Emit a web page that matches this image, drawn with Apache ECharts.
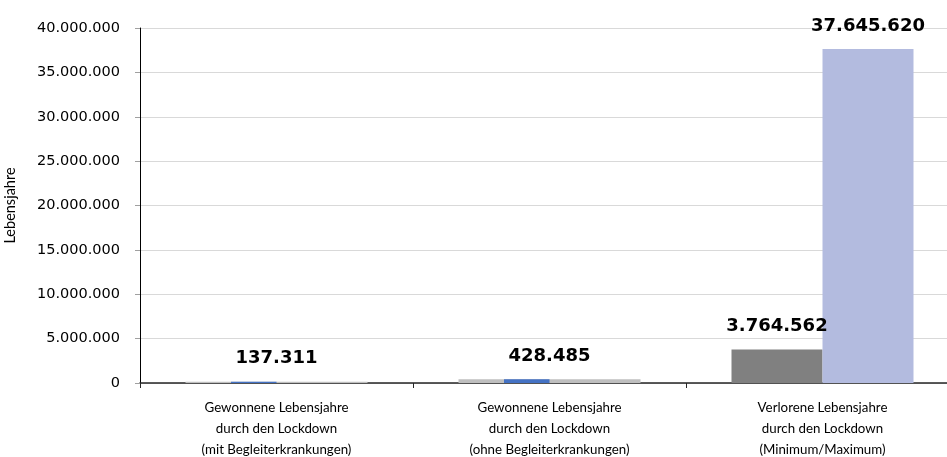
<!DOCTYPE html>
<html>
<head>
<meta charset="utf-8">
<script src="https://cdn.jsdelivr.net/npm/echarts@6/dist/echarts.min.js"></script>
<style>
  html, body { margin: 0; padding: 0; background: #ffffff; }
  #chart { width: 947px; height: 457px; }
</style>
</head>
<body>
<div id="chart"></div>
<script>
// Categories along the x axis
const categories = [
  'Gewonnene Lebensjahre\ndurch den Lockdown\n(mit Begleiterkrankungen)',
  'Gewonnene Lebensjahre\ndurch den Lockdown\n(ohne Begleiterkrankungen)',
  'Verlorene Lebensjahre\ndurch den Lockdown\n(Minimum/Maximum)'
];

// Life years gained (wide grey bar, labelled)
const gainedYears = [137311, 428485, null];
// Life years gained (narrow blue inner bar)
const gainedInner = [137311, 428485, null];
// Life years lost: minimum and maximum estimate
const lostMin = [null, null, 3764562];
const lostMax = [null, null, 37645620];

// Value axis range
const yMin = 0;
const yMax = 40000000;
const yStep = 5000000;

const FONT_NUM = '"DejaVu Sans", sans-serif';
const FONT_TXT = 'Lato, "Open Sans", sans-serif';

function fmtDE(v) {
  return String(Math.round(v)).replace(/\B(?=(\d{3})+(?!\d))/g, '.');
}

const valueLabel = {
  show: true,
  position: 'top',
  distance: 14,
  fontFamily: FONT_NUM,
  fontWeight: 'bold',
  fontSize: 18,
  color: '#000000',
  formatter: p => fmtDE(p.value)
};

const chart = echarts.init(document.getElementById('chart'), null, { renderer: 'canvas' });

chart.setOption({
  animation: false,
  backgroundColor: '#ffffff',
  grid: {
    left: 140, top: 28, width: 819, height: 355,
    containLabel: false,
    outerBoundsMode: 'none'
  },
  xAxis: [
    {
      type: 'category',
      data: categories,
      axisLine: { lineStyle: { color: '#262626', width: 1.5 } },
      axisTick: { show: true, length: 5, inside: false, lineStyle: { color: '#262626' } },
      axisLabel: {
        interval: 0,
        margin: 14,
        fontFamily: FONT_TXT,
        fontSize: 13.3,
        lineHeight: 21,
        color: '#000000'
      },
      splitLine: { show: false }
    },
    { type: 'category', data: categories, show: false },
    { type: 'category', data: categories, show: false }
  ],
  yAxis: {
    type: 'value',
    min: yMin,
    max: yMax,
    interval: yStep,
    name: 'Lebensjahre',
    nameLocation: 'middle',
    nameRotate: 90,
    nameGap: 122,
    nameTextStyle: { fontFamily: FONT_TXT, fontSize: 14.5, color: '#000000' },
    axisLine: { show: true, lineStyle: { color: '#000000', width: 1 } },
    axisTick: { show: true, length: 5, inside: false, lineStyle: { color: '#a0a0a0' } },
    axisLabel: {
      margin: 20,
      fontFamily: FONT_NUM,
      fontSize: 14.5,
      color: '#000000',
      formatter: v => fmtDE(v)
    },
    splitLine: { show: true, lineStyle: { color: '#d9d9d9', width: 1 } }
  },
  series: [
    {
      name: 'Gewonnen',
      type: 'bar',
      xAxisIndex: 1,
      data: gainedYears,
      barWidth: 182,
      itemStyle: { color: '#bfbfbf' },
      label: valueLabel,
      z: 2
    },
    {
      name: 'Gewonnen (innen)',
      type: 'bar',
      xAxisIndex: 2,
      data: gainedInner,
      barWidth: 45.5,
      barGap: 0,
      itemStyle: { color: '#4472c4' },
      z: 3
    },
    {
      name: 'Platzhalter',
      type: 'bar',
      xAxisIndex: 2,
      data: [null, null, null],
      barWidth: 45.5,
      barGap: 0,
      itemStyle: { color: 'transparent' }
    },
    {
      name: 'Minimum',
      type: 'bar',
      xAxisIndex: 0,
      data: lostMin,
      barWidth: 91,
      barGap: 0,
      itemStyle: { color: '#808080' },
      label: valueLabel,
      z: 2
    },
    {
      name: 'Maximum',
      type: 'bar',
      xAxisIndex: 0,
      data: lostMax,
      barWidth: 91,
      barGap: 0,
      itemStyle: { color: '#b3bbdf' },
      label: valueLabel,
      z: 2
    }
  ]
});
</script>
</body>
</html>
